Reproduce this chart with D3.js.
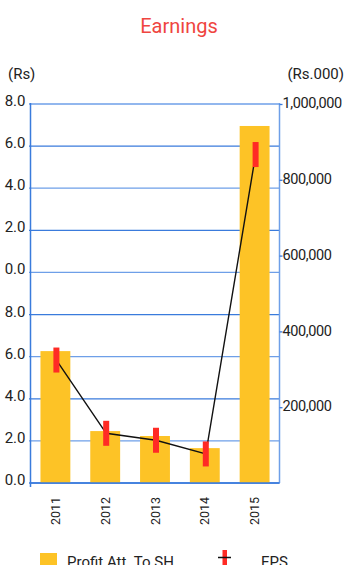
<!DOCTYPE html>
<html>
<head>
<meta charset="utf-8">
<script src="https://cdn.jsdelivr.net/npm/d3@7"></script>
<style>
  html, body { margin: 0; padding: 0; background: #fff; }
  svg { display: block; font-family: Roboto, "Noto Sans", sans-serif; }
</style>
</head>
<body>
<svg id="chart" width="350" height="565"></svg>
<script>
// Earnings: profit attributable to shareholders (bars, right axis) and EPS (line, left axis)
const years = ["2011", "2012", "2013", "2014", "2015"];
const profit = [348000, 137000, 124000, 92000, 942000];   // Rs.000
const eps = [5.84, 2.36, 2.03, 1.38, 15.6];                // Rs

const epsTicks = [0, 2, 4, 6, 8, 10, 12, 14, 16, 18];
const epsTickLabels = ["0.0", "2.0", "4.0", "6.0", "8.0", "0.0", "2.0", "4.0", "6.0", "8.0"];
const profitTicks = [200000, 400000, 600000, 800000, 1000000];

const svg = d3.select("#chart");
const plotLeft = 30.5, plotRight = 279.5, plotTop = 104, plotBottom = 483;

const x = d3.scaleBand().domain(years).range([plotLeft, plotRight]).paddingInner(0.4).paddingOuter(0.2);
const yEps = d3.scaleLinear().domain([0, 18]).range([plotBottom, plotTop]);
const yProfit = d3.scaleLinear().domain([0, 1000000]).range([plotBottom, plotTop]);

const blue = "#3a7bdc";
const lightBlue = "#6e9fe8";

// title and axis units
svg.append("text").attr("x", 179).attr("y", 33).attr("text-anchor", "middle")
  .attr("fill", "#ef4540").attr("font-size", 20).text("Earnings");
svg.append("text").attr("x", 8).attr("y", 79).attr("fill", "#222").attr("font-size", 15).text("(Rs)");
svg.append("text").attr("x", 344).attr("y", 79).attr("text-anchor", "end")
  .attr("fill", "#222").attr("font-size", 15).text("(Rs.000)");

// horizontal gridlines on the EPS scale
svg.append("g").selectAll("line").data(epsTicks).join("line")
  .attr("x1", plotLeft - 1.5).attr("x2", plotRight)
  .attr("y1", d => yEps(d)).attr("y2", d => yEps(d))
  .attr("stroke", (d, i) => i % 2 ? lightBlue : blue).attr("stroke-width", 1.3);

// bars
svg.append("g").selectAll("rect").data(years).join("rect")
  .attr("x", d => x(d))
  .attr("width", x.bandwidth())
  .attr("y", (d, i) => yProfit(profit[i]))
  .attr("height", (d, i) => plotBottom - yProfit(profit[i]))
  .attr("fill", "#fdc326");

// left axis (EPS)
const leftAxis = svg.append("g").attr("transform", `translate(${plotLeft},0)`)
  .call(d3.axisLeft(yEps).tickValues(epsTicks).tickSize(0).tickPadding(5)
    .tickFormat((d, i) => epsTickLabels[i]));
leftAxis.select(".domain").attr("stroke", blue).attr("stroke-width", 1.5)
  .attr("d", `M0,${plotTop - 1}V${plotBottom + 4}`);
leftAxis.selectAll("text").attr("font-size", 15).attr("fill", "#222")
  .attr("font-family", "Roboto, sans-serif").attr("dy", "0.1em");

// right axis (profit)
const rightAxis = svg.append("g").attr("transform", `translate(${plotRight},0)`)
  .call(d3.axisRight(yProfit).tickValues(profitTicks).tickSize(3).tickPadding(0)
    .tickFormat(d3.format(",")));
rightAxis.select(".domain").attr("stroke", lightBlue).attr("stroke-width", 1.5)
  .attr("d", `M0,${plotTop - 1}V${plotBottom}`);
rightAxis.selectAll(".tick line").attr("stroke", blue).attr("stroke-width", 1.3);
rightAxis.selectAll("text").attr("font-size", 14.5).attr("fill", "#222")
  .attr("font-family", "Roboto, sans-serif").attr("letter-spacing", "-0.4px").attr("dy", "0.25em");

// baseline
svg.append("line").attr("x1", plotLeft).attr("x2", plotRight).attr("y1", plotBottom).attr("y2", plotBottom)
  .attr("stroke", blue).attr("stroke-width", 1.5);

// year labels, rotated
svg.append("g").selectAll("text").data(years).join("text")
  .attr("transform", d => `translate(${x(d) + x.bandwidth() / 2 + 4.5},497) rotate(-90)`)
  .attr("text-anchor", "end").attr("font-size", 12.5).attr("fill", "#222").text(d => d);

// EPS line and markers
const cx = d => x(d) + x.bandwidth() / 2 + 1;
const line = d3.line().x((d, i) => cx(years[i])).y(d => yEps(d));
svg.append("path").datum(eps).attr("d", line)
  .attr("fill", "none").attr("stroke", "#111").attr("stroke-width", 1.4);
svg.append("g").selectAll("rect").data(eps).join("rect")
  .attr("x", (d, i) => cx(years[i]) - 3)
  .attr("y", d => yEps(d) - 12.5)
  .attr("width", 6).attr("height", 25)
  .attr("fill", "#ff2b25");

// legend
const legend = svg.append("g");
legend.append("rect").attr("x", 40).attr("y", 553).attr("width", 17).attr("height", 17).attr("fill", "#fdc326");
legend.append("text").attr("x", 67).attr("y", 567).attr("font-size", 15).attr("fill", "#222").text("Profit Att. To SH");
legend.append("rect").attr("x", 222.5).attr("y", 550).attr("width", 4.5).attr("height", 20).attr("fill", "#ff2b25");
legend.append("line").attr("x1", 218).attr("x2", 231).attr("y1", 557.5).attr("y2", 557.5)
  .attr("stroke", "#111").attr("stroke-width", 1.5);
legend.append("text").attr("x", 261).attr("y", 567).attr("font-size", 15).attr("fill", "#222").text("EPS");
</script>
</body>
</html>
